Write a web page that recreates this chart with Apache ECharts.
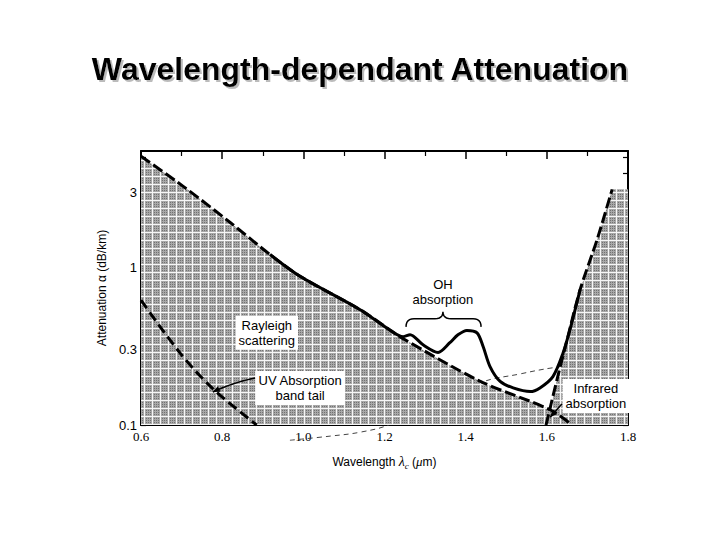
<!DOCTYPE html>
<html><head><meta charset="utf-8">
<script src="https://cdn.jsdelivr.net/npm/echarts@6/dist/echarts.min.js"></script>
<style>html,body{margin:0;padding:0;background:#fff}#c{width:720px;height:540px}</style>
</head><body><div id="c"></div>
<script>
// ---------- data ----------
const titleText = 'Wavelength-dependant Attenuation';
const xLabelValues = [0.6, 0.8, 1.0, 1.2, 1.4, 1.6, 1.8];
const yLabelValues = [0.1, 0.3, 1, 3];
const yTickValues = [0.1, 0.2, 0.3, 0.4, 0.5, 0.6, 0.7, 0.8, 0.9, 1, 2, 3, 4, 5];

const rayleighX = [0.600, 0.704, 0.819, 0.918, 0.992, 1.140, 1.214, 1.238, 1.435, 1.608, 1.662];
const rayleighY = [5.09, 3.28, 1.94, 1.21, 0.88, 0.54, 0.40, 0.363, 0.19, 0.125, 0.100];

const uvX = [0.600, 0.696, 0.777, 0.885];
const uvY = [0.62, 0.287, 0.170, 0.100];

const irX = [1.598, 1.625, 1.650, 1.682, 1.724, 1.761];
const irY = [0.100, 0.194, 0.348, 0.724, 1.51, 3.14];
const irTopX = [1.761, 1.800];
const irTopY = [3.14, 3.14];

const totalX = [0.918, 0.992, 1.140, 1.214, 1.246, 1.263, 1.295, 1.332, 1.361, 1.381, 1.403, 1.428, 1.443, 1.460, 1.485, 1.517, 1.559, 1.583, 1.615, 1.640, 1.657, 1.682];
const totalY = [1.21, 0.88, 0.54, 0.40, 0.364, 0.374, 0.323, 0.289, 0.333, 0.374, 0.399, 0.385, 0.315, 0.235, 0.189, 0.172, 0.163, 0.172, 0.203, 0.287, 0.403, 0.724];

const thinX = [0.967, 1.066, 1.140, 1.214, 1.435, 1.534, 1.615, 1.706, 1.800, 1.879];
const thinY = [0.080, 0.085, 0.090, 0.101, 0.185, 0.211, 0.231, 0.245, 0.248, 0.202];

function pairs(xs, ys) { return xs.map((x, i) => [x, ys[i]]); }

// ---------- hatch pattern ----------
const pc = document.createElement('canvas');
pc.width = 8; pc.height = 8;
const g = pc.getContext('2d');
g.fillStyle = '#a8a8a8'; g.fillRect(0, 0, 8, 8);
g.fillStyle = '#727272';
for (let i = 2; i < 8; i += 2) for (let j = 2; j < 8; j += 2) g.fillRect(i, j, 1, 1);
g.fillStyle = '#f6f6f6'; g.fillRect(0, 0, 8, 1); g.fillRect(0, 0, 1, 8);
const hatch = { image: pc, repeat: 'repeat' };

const FONT = 'Liberation Sans';
const chart = echarts.init(document.getElementById('c'), null, { renderer: 'svg' });

const xAxisBase = {
  type: 'value', min: 0.6, max: 1.8, interval: 0.2,
  axisLine: { show: true, onZero: false, lineStyle: { color: '#000', width: 2 } },
  axisTick: { show: true, inside: true, length: 8, lineStyle: { color: '#000', width: 1.5 } },
  minorTick: { show: true, splitNumber: 2, length: 5, lineStyle: { color: '#000', width: 1.2 } },
  splitLine: { show: false }, minorSplitLine: { show: false }
};
const yAxisBase = {
  type: 'log', logBase: 10, min: 0.1, max: 5.5,
  axisLine: { show: true, onZero: false, lineStyle: { color: '#000', width: 2 } },
  axisTick: { show: true, inside: true, length: 5, customValues: yTickValues, lineStyle: { color: '#000', width: 1.2 } },
  splitLine: { show: false }
};

const option = {
  backgroundColor: '#fff',
  animation: false,
  title: {
    text: titleText, left: 'center', top: 48,
    textStyle: { fontFamily: FONT, fontSize: 32, fontWeight: 'bold', color: '#000',
      textShadowColor: 'rgba(175,175,175,0.85)', textShadowOffsetX: 2, textShadowOffsetY: 2, textShadowBlur: 0.5 }
  },
  grid: { left: 141, right: 92, top: 151, bottom: 115, containLabel: false, outerBoundsMode: 'none' },
  xAxis: [
    Object.assign({}, xAxisBase, {
      position: 'bottom',
      name: 'Wavelength {i|λ}{s|c} ({m|μ}m)', nameLocation: 'middle', nameGap: 28,
      nameTextStyle: { fontFamily: FONT, fontSize: 12, color: '#000',
        rich: { i: { fontFamily: 'Liberation Serif', fontStyle: 'italic', fontSize: 14, color: '#000' },
                s: { fontFamily: 'Liberation Serif', fontStyle: 'italic', fontSize: 9, color: '#000', padding: [8, 0, 0, 0] },
                m: { fontFamily: 'Liberation Serif', fontStyle: 'italic', fontSize: 13, color: '#000' } } },
      axisLabel: { show: true, margin: 5, fontFamily: 'Liberation Serif', fontSize: 13, color: '#000',
        customValues: xLabelValues, formatter: v => Number(v).toFixed(1) }
    }),
    Object.assign({}, xAxisBase, { position: 'top', axisLabel: { show: false } })
  ],
  yAxis: [
    Object.assign({}, yAxisBase, {
      position: 'left',
      name: 'Attenuation α (dB/km)', nameLocation: 'middle', nameGap: 30, nameRotate: 90,
      nameTextStyle: { fontFamily: FONT, fontSize: 12, color: '#000' },
      axisLabel: { show: true, margin: 4, fontFamily: FONT, fontSize: 13, color: '#000',
        customValues: yLabelValues, formatter: v => String(+Number(v).toPrecision(3)) }
    }),
    Object.assign({}, yAxisBase, { position: 'right', axisLabel: { show: false } })
  ],
  series: [
    { name: 'thin', type: 'line', data: pairs(thinX, thinY), smooth: 0.4, symbol: 'none', clip: false, z: 1,
      lineStyle: { color: '#444', width: 1, type: [5, 4] } },
    { name: 'Rayleigh scattering', type: 'line', data: pairs(rayleighX, rayleighY), smooth: 0.3, symbol: 'none', z: 2,
      lineStyle: { color: '#000', width: 3, type: [11, 4] },
      areaStyle: { color: hatch, opacity: 1, origin: 'start' } },
    { name: 'IR fill', type: 'line', data: pairs(irX.concat(irTopX.slice(1)), irY.concat(irTopY.slice(1))), symbol: 'none', z: 2,
      lineStyle: { width: 0, opacity: 0 },
      areaStyle: { color: hatch, opacity: 1, origin: 'start' } },
    { name: 'Infrared absorption', type: 'line', data: pairs(irX, irY), smooth: 0.3, symbol: 'none', z: 3,
      lineStyle: { color: '#000', width: 3, type: [11, 4] } },
    { name: 'UV Absorption band tail', type: 'line', data: pairs(uvX, uvY), smooth: 0.3, symbol: 'none', z: 3,
      lineStyle: { color: '#000', width: 3, type: [10, 5] } },
    { name: 'Total', type: 'line', data: pairs(totalX, totalY), smooth: 0.3, symbol: 'none', z: 4,
      lineStyle: { color: '#000', width: 3 } }
  ]
};
chart.setOption(option);

// ---------- annotations positioned in data space ----------
function P(x, y) { return chart.convertToPixel({ xAxisIndex: 0, yAxisIndex: 0 }, [x, y]); }
const txt = { fontFamily: FONT, fontSize: 13, fill: '#000' };
function label(x, y, text, bg) {
  const p = P(x, y);
  return { type: 'text', z: 100, x: p[0], y: p[1],
    style: Object.assign({}, txt, { text: text, align: 'center', verticalAlign: 'middle', lineHeight: 15,
      backgroundColor: bg ? '#fff' : null, padding: bg ? [2, 3, 2, 3] : 0 }) };
}
function quad(a, c, b, n) { // sample quadratic bezier
  const out = [];
  for (let k = 0; k <= n; k++) {
    const t = k / n, u = 1 - t;
    out.push([u * u * a[0] + 2 * u * t * c[0] + t * t * b[0], u * u * a[1] + 2 * u * t * c[1] + t * t * b[1]]);
  }
  return out;
}
const bL = P(1.253, 0.420), bR = P(1.438, 0.420), bM = P(1.344, 0.524), bT = P(1.344, 0.473);
const yT = bT[1];
const bracePts = [].concat(
  quad(bL, [bL[0], yT], [bL[0] + 8, yT], 6),
  quad([bM[0] - 8, yT], [bM[0], yT], bM, 6),
  quad(bM, [bM[0], yT], [bM[0] + 8, yT], 6),
  quad([bR[0] - 8, yT], [bR[0], yT], bR, 6)
);
const ua = P(0.881, 0.199), ub = P(0.777, 0.162), uc = P(0.824, 0.185);
const ia = P(1.637, 0.136), ib = P(1.608, 0.112);
function arrowHead(from, to) {
  const dx = to[0] - from[0], dy = to[1] - from[1], d = Math.hypot(dx, dy), ux = dx / d, uy = dy / d;
  const s = 7, w = 3;
  return { type: 'polygon', z: 100, shape: { points: [[to[0], to[1]],
    [to[0] - ux * s - uy * w, to[1] - uy * s + ux * w], [to[0] - ux * s + uy * w, to[1] - uy * s - ux * w]] },
    style: { fill: '#000' } };
}
chart.setOption({ graphic: [
  label(0.910, 0.386, 'Rayleigh\nscattering', true),
  label(0.992, 0.172, 'UV Absorption\nband tail', true),
  label(1.721, 0.153, 'Infrared\nabsorption', true),
  label(1.344, 0.70, 'OH\nabsorption', false),
  { type: 'polyline', z: 100, shape: { points: bracePts }, style: { stroke: '#000', lineWidth: 1.5, fill: null } },
  { type: 'polyline', z: 100, shape: { points: quad(ua, uc, ub, 10) }, style: { stroke: '#000', lineWidth: 1.5, fill: null } },
  arrowHead(uc, ub),
  { type: 'line', z: 100, shape: { x1: ia[0], y1: ia[1], x2: ib[0], y2: ib[1] }, style: { stroke: '#000', lineWidth: 1.5 } },
  arrowHead(ia, ib)
] });
</script>
</body></html>
